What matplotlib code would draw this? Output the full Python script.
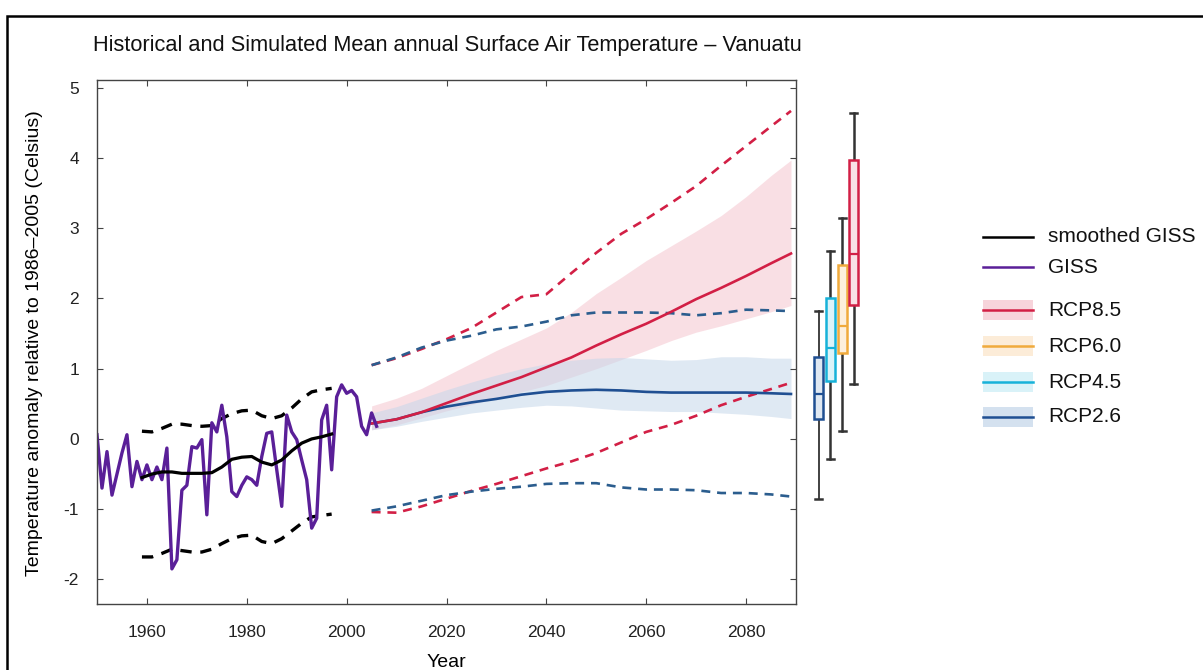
import matplotlib
matplotlib.use("Agg")
import matplotlib.pyplot as plt
from matplotlib.lines import Line2D
from matplotlib.patches import Rectangle

# ---------------- data ----------------
giss_years = list(range(1950, 2007))
giss = [0.06, -0.70, -0.18, -0.80, -0.50, -0.20, 0.06, -0.68, -0.32, -0.58,
        -0.37, -0.58, -0.40, -0.58, -0.13, -1.85, -1.72, -0.73, -0.66, -0.11,
        -0.13, -0.01, -1.08, 0.23, 0.10, 0.48, 0.03, -0.75, -0.82, -0.66,
        -0.54, -0.58, -0.66, -0.25, 0.08, 0.10, -0.44, -0.96, 0.34, 0.10,
        -0.01, -0.30, -0.58, -1.27, -1.13, 0.27, 0.48, -0.44, 0.60, 0.77,
        0.65, 0.69, 0.60, 0.18, 0.06, 0.37, 0.18]

smooth_years = [1959, 1961, 1963, 1965, 1967, 1969, 1971, 1973, 1975, 1977,
                1979, 1981, 1983, 1985, 1987, 1989, 1991, 1993, 1995, 1997]
smooth_giss = [-0.55, -0.50, -0.47, -0.47, -0.49, -0.49, -0.49, -0.48, -0.40, -0.29,
               -0.26, -0.25, -0.33, -0.37, -0.30, -0.17, -0.06, 0.00, 0.03, 0.07]
smooth_upper = [0.11, 0.10, 0.15, 0.21, 0.21, 0.19, 0.18, 0.19, 0.29, 0.36,
                0.40, 0.41, 0.33, 0.29, 0.33, 0.44, 0.57, 0.67, 0.70, 0.72]
smooth_lower = [-1.68, -1.68, -1.63, -1.57, -1.59, -1.61, -1.61, -1.57, -1.49, -1.42,
                -1.38, -1.37, -1.46, -1.49, -1.42, -1.31, -1.20, -1.11, -1.09, -1.07]

proj_years = [2005, 2010, 2015, 2020, 2025, 2030, 2035, 2040, 2045, 2050,
              2055, 2060, 2065, 2070, 2075, 2080, 2085, 2089]
rcp85_med = [0.22, 0.28, 0.38, 0.51, 0.64, 0.76, 0.88, 1.02, 1.16, 1.33,
             1.49, 1.64, 1.81, 1.99, 2.15, 2.32, 2.50, 2.64]
rcp85_hi = [0.47, 0.58, 0.72, 0.90, 1.08, 1.26, 1.42, 1.58, 1.80, 2.07,
            2.30, 2.54, 2.75, 2.96, 3.18, 3.45, 3.75, 3.97]
rcp85_lo = [0.13, 0.20, 0.30, 0.40, 0.49, 0.58, 0.67, 0.76, 0.88, 1.00,
            1.13, 1.26, 1.40, 1.52, 1.61, 1.71, 1.81, 1.90]
rcp26_med = [0.22, 0.28, 0.38, 0.46, 0.52, 0.57, 0.63, 0.67, 0.69, 0.70,
             0.69, 0.67, 0.66, 0.66, 0.66, 0.66, 0.65, 0.64]
rcp26_hi = [0.37, 0.46, 0.58, 0.70, 0.81, 0.91, 1.00, 1.07, 1.12, 1.15,
            1.16, 1.14, 1.12, 1.13, 1.17, 1.17, 1.15, 1.15]
rcp26_lo = [0.13, 0.18, 0.25, 0.31, 0.37, 0.41, 0.45, 0.48, 0.47, 0.44,
            0.41, 0.40, 0.39, 0.39, 0.37, 0.35, 0.32, 0.29]
rcp85_max = [1.05, 1.15, 1.28, 1.42, 1.58, 1.80, 2.02, 2.06, 2.36, 2.65,
             2.92, 3.13, 3.36, 3.60, 3.89, 4.17, 4.45, 4.67]
rcp85_min = [-1.04, -1.05, -0.96, -0.85, -0.74, -0.64, -0.53, -0.42, -0.32, -0.20,
             -0.05, 0.10, 0.20, 0.33, 0.48, 0.60, 0.71, 0.80]
rcp26_max = [1.05, 1.16, 1.30, 1.40, 1.47, 1.56, 1.60, 1.67, 1.76, 1.80,
             1.80, 1.80, 1.79, 1.76, 1.79, 1.84, 1.83, 1.82]
rcp26_min = [-1.02, -0.96, -0.88, -0.80, -0.75, -0.71, -0.68, -0.64, -0.63, -0.63,
             -0.69, -0.72, -0.72, -0.73, -0.77, -0.77, -0.79, -0.82]

scenarios = ["RCP2.6", "RCP4.5", "RCP6.0", "RCP8.5"]
box_wlo = [-0.85, -0.29, 0.11, 0.78]
box_q1 = [0.28, 0.83, 1.22, 1.91]
box_med = [0.64, 1.30, 1.61, 2.63]
box_q3 = [1.16, 2.01, 2.47, 3.97]
box_whi = [1.82, 2.67, 3.15, 4.64]

legend_labels = ["smoothed GISS", "GISS", "RCP8.5", "RCP6.0", "RCP4.5", "RCP2.6"]

# ---------------- style ----------------
plt.rcParams["axes.unicode_minus"] = False
FONT = "Liberation Sans"

c_giss = "#5a1f98"
c85 = "#d21f45"
c85_band = "#f5c6cf"
c60 = "#f0aa3c"
c60_band = "#fbe6cc"
c45 = "#17b2d9"
c45_band = "#cdeef6"
c26 = "#1f4f92"
c26_band = "#c6d7ea"
c26_dash = "#2b5d8e"
spine_c = "#444444"

W, H = 1203, 670
fig = plt.figure(figsize=(W / 100, H / 100), dpi=100)
fig.patch.set_facecolor("white")


def fx(px):
    return px / W


def fy(py):
    return 1 - py / H


# outer frame
fig.add_artist(Rectangle((fx(7), fy(H + 20)), fx(W + 20) - fx(7), fy(16) - fy(H + 20),
                         transform=fig.transFigure, fill=False, edgecolor="black", lw=1.8))

ax = fig.add_axes([fx(97), fy(604), fx(796) - fx(97), fy(80) - fy(604)])
ax.set_xlim(1950, 2090)
ax.set_ylim(-2.35, 5.11)

ax.fill_between(proj_years, rcp85_lo, rcp85_hi, color=c85_band, alpha=0.55, lw=0)
ax.fill_between(proj_years, rcp26_lo, rcp26_hi, color=c26_band, alpha=0.55, lw=0)

dash = (0, (3.4, 2.6))
ax.plot(smooth_years, smooth_upper, color="black", lw=2.4, ls=dash)
ax.plot(smooth_years, smooth_lower, color="black", lw=2.4, ls=dash)
ax.plot(proj_years, rcp85_max, color=c85, lw=1.9, ls=dash)
ax.plot(proj_years, rcp85_min, color=c85, lw=1.9, ls=dash)
ax.plot(proj_years, rcp26_max, color=c26_dash, lw=1.9, ls=dash)
ax.plot(proj_years, rcp26_min, color=c26_dash, lw=1.9, ls=dash)

ax.plot(proj_years, rcp26_med, color=c26, lw=1.9)
ax.plot(proj_years, rcp85_med, color=c85, lw=1.9)
ax.plot(giss_years, giss, color=c_giss, lw=2.4)
ax.plot(smooth_years, smooth_giss, color="black", lw=2.3)

ax.set_xticks(range(1960, 2081, 20))
ax.set_yticks(range(-2, 6))
ax.tick_params(direction="in", top=True, right=True, length=4, width=0.8,
               color=spine_c, labelsize=12.5)
ax.tick_params(axis="x", pad=15)
ax.tick_params(axis="y", pad=13)
for lab in ax.get_xticklabels() + ax.get_yticklabels():
    lab.set_fontfamily(FONT)
    lab.set_color("#222222")
for s in ax.spines.values():
    s.set_color(spine_c)
    s.set_linewidth(1.0)

ax.set_xlabel("Year", fontsize=14, family=FONT, labelpad=10)
ax.set_ylabel("Temperature anomaly relative to 1986\u20132005 (Celsius)",
              fontsize=14, family=FONT)
ax.yaxis.set_label_coords((43 - 97) / (796 - 97), (604 - 343) / (604 - 80))

fig.text(fx(93), fy(46), "Historical and Simulated Mean annual Surface Air Temperature \u2013 Vanuatu",
         fontsize=15.7, family=FONT, ha="left", va="center", color="#111111")

# ---------------- box plots ----------------
bx = fig.add_axes([fx(812.9), fy(604), fx(46.8), fy(80) - fy(604)])
bx.set_xlim(0.5, 4.5)
bx.set_ylim(-2.35, 5.11)
bx.axis("off")
edge_cols = [c26, c45, c60, c85]
fill_cols = ["#dfe8f2", "#dcf3f9", "#fdefdc", "#f9e0e5"]
stats = []
for i in range(4):
    stats.append(dict(whislo=box_wlo[i], q1=box_q1[i], med=box_med[i], q3=box_q3[i],
                      whishi=box_whi[i], label=scenarios[i]))
bp = bx.bxp(stats, positions=[1, 2, 3, 4], widths=0.78, patch_artist=True,
            showfliers=False, manage_ticks=False)
for i in range(4):
    bp["boxes"][i].set(facecolor=fill_cols[i], edgecolor=edge_cols[i], lw=1.8, zorder=3)
    bp["medians"][i].set(color=edge_cols[i], lw=1.6, zorder=4)
for j, w in enumerate(bp["whiskers"]):
    w.set(color="#333333", lw=1.3 if j < 2 else 1.8)
for c in bp["caps"]:
    c.set(color="#333333", lw=1.8)
    xd = c.get_xdata()
    m = (xd[0] + xd[1]) / 2
    c.set_xdata([m - 0.3, m + 0.3])

# ---------------- legend ----------------
leg_y = [237, 267, 310, 346, 382, 417]
leg_line = ["black", c_giss, c85, c60, c45, c26]
leg_band = [None, None, c85_band, c60_band, c45_band, c26_band]
for lab, yy, lc, bc in zip(legend_labels, leg_y, leg_line, leg_band):
    if bc is not None:
        fig.add_artist(Rectangle((fx(983), fy(yy + 10)), fx(50), fy(yy - 10) - fy(yy + 10),
                                 transform=fig.transFigure, facecolor=bc, edgecolor="none",
                                 alpha=0.75))
    fig.add_artist(Line2D([fx(983), fx(1033)], [fy(yy), fy(yy)], transform=fig.transFigure,
                          color=lc, lw=1.8))
    fig.text(fx(1048), fy(yy), lab, fontsize=15, family=FONT, ha="left", va="center",
             color="#111111")

fig.savefig("out.png", dpi=100)
